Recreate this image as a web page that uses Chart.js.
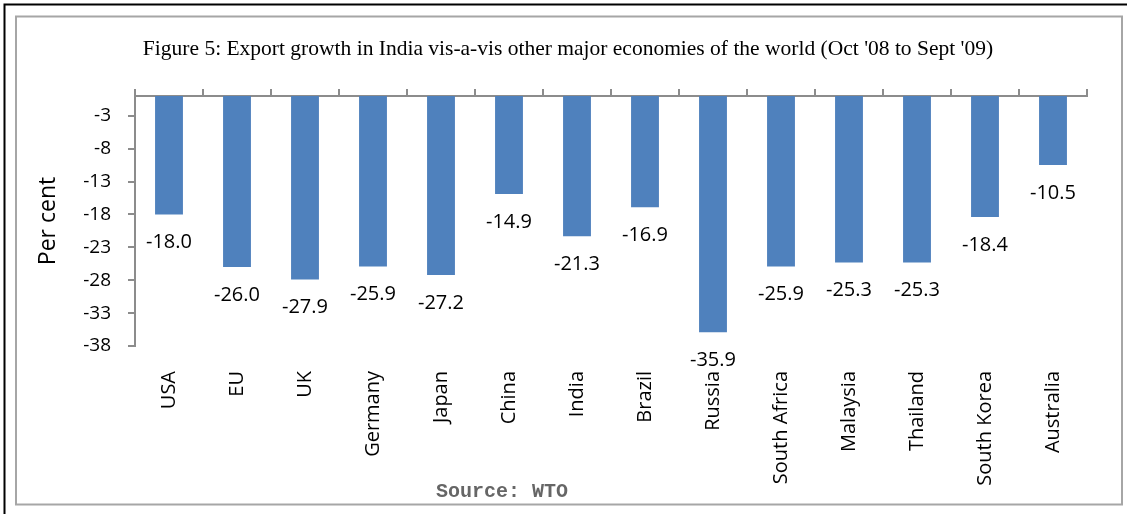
<!DOCTYPE html>
<html>
<head>
<meta charset="utf-8">
<script src="https://cdn.jsdelivr.net/npm/chart.js@4"></script>
<style>
  body { margin: 0; background: #fff; }
  #wrap { width: 1127px; height: 514px; }
</style>
</head>
<body>
<div id="wrap"><canvas id="exportChart" width="1127" height="514"></canvas></div>
<script>
// Export growth, Oct '08 to Sept '09 (per cent)
const countries = ['USA', 'EU', 'UK', 'Germany', 'Japan', 'China', 'India', 'Brazil',
    'Russia', 'South Africa', 'Malaysia', 'Thailand', 'South Korea', 'Australia'];
const growth = [-18.0, -26.0, -27.9, -25.9, -27.2, -14.9, -21.3, -16.9,
    -35.9, -25.9, -25.3, -25.3, -18.4, -10.5];
const yTicks = [-38, -33, -28, -23, -18, -13, -8, -3];

const titleText = "Figure 5: Export growth in India vis-a-vis other major economies of the world (Oct '08 to Sept '09)";
const sourceText = 'Source: WTO';

const axisGrey = '#8c8c8c';
const barBlue = '#4f81bd';

// frame + title + source note
const framePlugin = {
    id: 'frame',
    beforeDraw(chart) {
        const ctx = chart.ctx;
        ctx.save();
        ctx.fillStyle = '#fff';
        ctx.fillRect(0, 0, chart.width, chart.height);
        // black edge top/left
        ctx.strokeStyle = '#000';
        ctx.lineWidth = 2;
        ctx.beginPath();
        ctx.moveTo(4.5, chart.height);
        ctx.lineTo(4.5, 4.5);
        ctx.lineTo(chart.width, 4.5);
        ctx.stroke();
        // grey chart border
        ctx.strokeStyle = '#a6a6a6';
        ctx.lineWidth = 2;
        ctx.strokeRect(16, 16.5, 1106, 488);
        ctx.restore();
    },
    afterDraw(chart) {
        const ctx = chart.ctx;
        ctx.save();
        ctx.fillStyle = '#000';
        ctx.font = '21.5px "Liberation Serif", "Times New Roman", serif';
        ctx.textAlign = 'center';
        ctx.textBaseline = 'middle';
        ctx.fillText(titleText, 568, 49);
        ctx.fillStyle = '#666';
        ctx.font = 'bold 20px "Liberation Mono", "Courier New", monospace';
        ctx.fillText(sourceText, 502, 492);
        ctx.restore();
    }
};

// value labels under each bar
const valueLabels = {
    id: 'valueLabels',
    afterDatasetsDraw(chart) {
        const ctx = chart.ctx;
        const meta = chart.getDatasetMeta(0);
        ctx.save();
        ctx.fillStyle = '#000';
        ctx.font = '20px "Open Sans", sans-serif';
        ctx.textAlign = 'center';
        ctx.textBaseline = 'middle';
        meta.data.forEach((bar, i) => {
            ctx.fillText(growth[i].toFixed(1), bar.x, bar.y + 28);
        });
        ctx.restore();
    }
};

const chart = new Chart(document.getElementById('exportChart'), {
    type: 'bar',
    data: {
        labels: countries,
        datasets: [{
            label: 'Export growth',
            data: growth,
            backgroundColor: barBlue,
            borderWidth: 0,
            categoryPercentage: 1,
            barPercentage: 0.41
        }]
    },
    options: {
        responsive: false,
        devicePixelRatio: 1,
        animation: false,
        layout: { padding: { top: 96, right: 40, bottom: 0, left: 0 } },
        plugins: {
            legend: { display: false },
            tooltip: { enabled: false },
            title: { display: false }
        },
        scales: {
            x: {
                position: 'bottom',
                grid: { display: false, drawTicks: false },
                border: { display: false },
                ticks: {
                    autoSkip: false,
                    minRotation: 90,
                    maxRotation: 90,
                    padding: 25,
                    color: '#000',
                    font: { family: '"Open Sans", sans-serif', size: 20 }
                },
                afterFit: (s) => { s.height = 168; }
            },
            x2: {
                type: 'category',
                labels: countries,
                position: 'top',
                offset: true,
                grid: { offset: true, drawOnChartArea: false, tickLength: 7, color: axisGrey, lineWidth: 2 },
                border: { color: axisGrey, width: 2 },
                ticks: { display: false },
                afterFit: (s) => { s.height = 0; }
            },
            y: {
                min: -38,
                max: 0,
                grid: { drawOnChartArea: false, tickLength: 7, color: axisGrey, lineWidth: 2 },
                border: { color: axisGrey, width: 2 },
                ticks: {
                    padding: 17,
                    color: '#000',
                    font: { family: '"Open Sans", sans-serif', size: 19 }
                },
                afterBuildTicks: (s) => { s.ticks = yTicks.map(v => ({ value: v })); },
                title: {
                    display: true,
                    text: 'Per cent',
                    color: '#000',
                    font: { family: '"Open Sans", sans-serif', size: 23 },
                    padding: { top: 35, bottom: 0 }
                },
                afterFit: (s) => { s.width = 135; }
            }
        }
    },
    plugins: [framePlugin, valueLabels]
});
</script>
</body>
</html>
